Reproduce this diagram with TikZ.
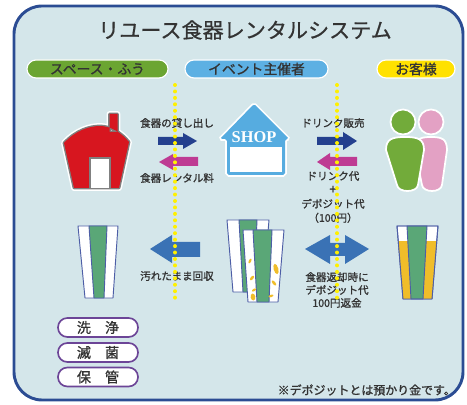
\documentclass[tikz,border=0pt]{standalone}
\usepackage{fontspec}
\setmainfont{Noto Sans CJK JP}
\newfontfamily\jpmid[FakeBold=1.2]{Noto Sans CJK JP}
\newfontfamily\jptitle[FakeBold=0.7]{Noto Sans CJK JP}
\newfontfamily\shopfont{Liberation Serif}
\definecolor{bgblue}{HTML}{D4E6EA}
\definecolor{framenavy}{HTML}{2B4C93}
\definecolor{textgray}{HTML}{333333}
\definecolor{spacegreen}{HTML}{6BA532}
\definecolor{eventblue}{HTML}{5DB0E3}
\definecolor{guestyellow}{HTML}{FFE100}
\definecolor{housered}{HTML}{D7161F}
\definecolor{shopblue}{HTML}{56ACE0}
\definecolor{arrownavy}{HTML}{24408E}
\definecolor{arrowpink}{HTML}{BE3B93}
\definecolor{arrowblue}{HTML}{3A72B5}
\definecolor{cupgreen}{HTML}{5AA777}
\definecolor{cupline}{HTML}{4D5EA6}
\definecolor{beer}{HTML}{F0BD2A}
\definecolor{mangreen}{HTML}{72AB3A}
\definecolor{womanpink}{HTML}{E3A1C4}
\definecolor{washpurple}{HTML}{6C4597}
\definecolor{dotyellow}{HTML}{FFF000}

\begin{document}
\begin{tikzpicture}[
        x=0.03cm, y=-0.03cm,
        lbl/.style={text=textgray, inner sep=0pt, align=center,
            font=\jpmid\fontsize{9}{10.5}\selectfont}, % 说明文字
        pill/.style={rounded corners=0.27cm, minimum height=0.54cm, draw=white,
            line width=1pt, text=textgray, inner sep=0pt,
            font=\jpmid\fontsize{11.8}{12}\selectfont}, % 上方标签
        wash/.style={rounded corners=0.28cm, minimum width=2.4cm, minimum height=0.57cm,
            draw=washpurple, fill=white, line width=1.4pt, text=textgray, inner sep=0pt,
            font=\jpmid\fontsize{12}{12}\selectfont}, % 左下标签
        cup/.style={draw=cupline, line width=0.8pt, line join=round}, % 杯子轮廓
        dots/.style={draw=dotyellow, line width=3.4pt, line cap=round,
            dash pattern=on 0pt off 5.5pt} % 黄色点线
    ]
    \useasboundingbox (0,0) rectangle (467,405);

    % 外框
    \draw[framenavy, fill=bgblue, line width=2.5pt, rounded corners=0.84cm]
        (14,6) rectangle (463,400);

    % 标题与三个标签
    \node[text=textgray, font=\jptitle\fontsize{18}{18}\selectfont] (title) at (245,30)
        {リユース食器レンタルシステム};
    \node[pill, fill=spacegreen, minimum width=4.23cm] (space) at (97.5,69) {スペース・ふう};
    \node[pill, fill=eventblue, minimum width=4.29cm] (event) at (256.5,69) {イベント主催者};
    \node[pill, fill=guestyellow, minimum width=2.34cm] (guest) at (416,69) {お客様};

    % 红色房子
    \path[fill=housered, line join=round,
          preaction={draw=white, line width=5pt, line join=round},
          preaction={draw=gray, line width=2.4pt, line join=round}]
        (109.5,114) rectangle (117.5,132)
        (74,188) -- (64,143) .. controls (76,130) and (90,126) .. (100,126)
        .. controls (110,126) and (121,132) .. (129,142) -- (119,188) -- cycle;
    \draw[gray, fill=white, line width=1.2pt] (90,188) -- (90,158) -- (110,158) -- (110,188);

    % SHOP
    \path[fill=shopblue, rounded corners=1.5pt,
          preaction={draw=white, line width=3pt, rounded corners=1.5pt}]
        (254,104) -- (289,139) -- (285,139) -- (285,175) -- (227,175)
        -- (227,139) -- (220,139) -- cycle;
    \fill[white] (230,147) rectangle (282,172.5);
    \node[text=white, font=\shopfont\bfseries\fontsize{14}{14}\selectfont, inner sep=0pt]
        (shop) at (254,137) {SHOP};

    % 两个人
    \begin{scope}[draw=white, line width=1.5pt]
        \filldraw[fill=womanpink] (431,122) circle [radius=12.5];
        \filldraw[fill=womanpink] (415,150) .. controls (415,139) and (420,137) .. (431,137)
            .. controls (442,137) and (447,139) .. (447,150) -- (442,185)
            .. controls (441,193) and (423,193) .. (422,185) -- cycle;
        \filldraw[fill=mangreen] (403,122) circle [radius=12.5];
        \filldraw[fill=mangreen] (386,150) .. controls (386,139) and (392,137) .. (405,137)
            .. controls (418,137) and (424,139) .. (424,150) -- (418,185)
            .. controls (417,193) and (398,193) .. (397,185) -- cycle;
    \end{scope}

    % 上排箭头
    \fill[arrownavy] (158,137) -- (183,137) -- (183,133) -- (197,141) -- (183,149)
        -- (183,145) -- (158,145) -- cycle;
    \fill[arrowpink] (198,157) -- (173,157) -- (173,154) -- (159,162) -- (173,170)
        -- (173,166) -- (198,166) -- cycle;
    \fill[arrownavy] (317,137) -- (343,137) -- (343,132) -- (357,141) -- (343,150)
        -- (343,145) -- (317,145) -- cycle;
    \fill[arrowpink] (357,157) -- (330,157) -- (330,153) -- (317,162) -- (330,170)
        -- (330,166) -- (357,166) -- cycle;
    \node[lbl] (lend) at (177,123) {食器の貸し出し};
    \node[lbl] (fee) at (177,178) {食器レンタル料};
    \node[lbl] (sale) at (333,123) {ドリンク販売};
    \node[lbl, font=\jpmid\fontsize{9}{11.9}\selectfont] (pay) at (333,197)
        {ドリンク代\\{\fontsize{11}{11}\selectfont +}\\デポジット代\\（100円）};

    % 左边的杯子
    \filldraw[cup, fill=white] (78,226) -- (118,226) -- (113,298) -- (85,298) -- cycle;
    \filldraw[cup, fill=cupgreen] (89,226) -- (107,226) -- (104,298) -- (94,298) -- cycle;

    % 叠放的脏杯子
    \filldraw[cup, fill=white] (227,220) -- (269,220) -- (263,292) -- (233,292) -- cycle;
    \filldraw[cup, fill=cupgreen] (239,220) -- (257,220) -- (254,292) -- (243,292) -- cycle;
    \filldraw[cup, fill=white] (243,230) -- (284,230) -- (278,302) -- (248,302) -- cycle;
    \filldraw[cup, fill=cupgreen] (253,230) -- (272,230) -- (269,302) -- (257,302) -- cycle;
    \fill[beer] (250,261) ellipse [x radius=1pt, y radius=2.2pt, rotate=-25];
    \fill[beer] (252,278) ellipse [x radius=1.2pt, y radius=2.4pt, rotate=-40];
    \fill[beer] (254,290) ellipse [x radius=1pt, y radius=2pt, rotate=-60];
    \fill[beer] (253,297) ellipse [x radius=2pt, y radius=3pt, rotate=10];
    \fill[beer] (276,269) ellipse [x radius=2pt, y radius=4.5pt, rotate=15];
    \fill[beer] (274,283) ellipse [x radius=1.2pt, y radius=2.6pt, rotate=40];
    \fill[beer] (271,296) ellipse [x radius=1pt, y radius=2.2pt, rotate=-70];

    % 装饮料的杯子
    \filldraw[cup, fill=white] (397,226) -- (438,226) -- (432,299) -- (403,299) -- cycle;
    \begin{scope}
        \clip (397,226) -- (438,226) -- (432,299) -- (403,299) -- cycle;
        \fill[beer] (390,241) rectangle (445,305);
    \end{scope}
    \filldraw[cup, fill=cupgreen] (407,226) -- (427,226) -- (423,299) -- (411,299) -- cycle;
    \draw[cup] (397,226) -- (438,226) -- (432,299) -- (403,299) -- cycle;

    % 下排箭头
    \fill[arrowblue] (150,249) -- (172,235) -- (172,242) -- (200,242) -- (200,257)
        -- (172,257) -- (172,263) -- cycle;
    \fill[arrowblue] (305,249) -- (330,235) -- (330,243) -- (345,243) -- (345,235)
        -- (369,249) -- (345,264) -- (345,256) -- (330,256) -- (330,264) -- cycle;
    \node[lbl] (collect) at (177,276) {汚れたまま回収};
    \node[lbl, font=\jpmid\fontsize{9}{11}\selectfont] (refund) at (337,290)
        {食器返却時に\\デポジット代\\100円返金};

    % 洗净 灭菌 保管
    \node[wash] (clean) at (98,327.5) {洗　浄};
    \node[wash] (sterile) at (98,352.5) {滅　菌};
    \node[wash] (keep) at (98,377) {保　管};

    % 注释
    \node[text=textgray, font=\jpmid\fontsize{10.2}{10.2}\selectfont, anchor=east, inner sep=0pt]
        (note) at (456,390) {※デポジットとは預かり金です。};

    % 黄色点线
    \draw[dots] (175,85) -- (175,298);
    \draw[dots] (337,85) -- (337,298);
\end{tikzpicture}
\end{document}
